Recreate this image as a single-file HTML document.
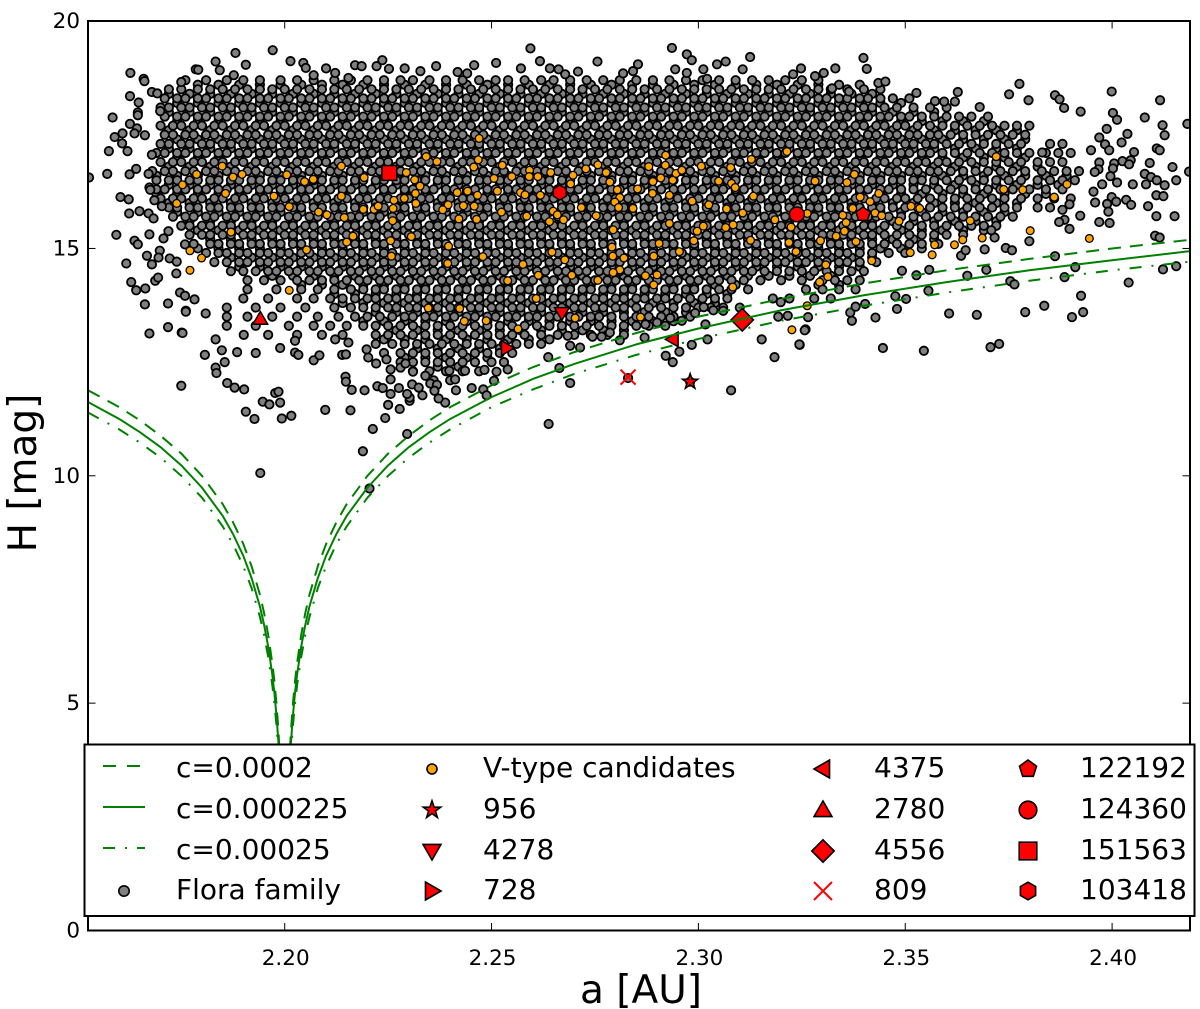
<!DOCTYPE html>
<html lang="en">
<head>
<meta charset="utf-8">
<title>Flora family H versus a</title>
<style>
html,body{margin:0;padding:0;background:#fff;}
svg{display:block;}
text{font-family:"DejaVu Sans","Liberation Sans",sans-serif;fill:#000;}
</style>
</head>
<body>
<svg id="chart" xmlns="http://www.w3.org/2000/svg" width="1200" height="1009" viewBox="0 0 1200 1009">
<defs><clipPath id="plot-clip"><rect x="88" y="21" width="1102" height="909.5"/></clipPath></defs>
<rect x="0" y="0" width="1200" height="1009" fill="#fff"/>
<g id="flora-layer" clip-path="url(#plot-clip)"></g>
<g id="vtype-layer" clip-path="url(#plot-clip)"></g>
<g id="named-layer" clip-path="url(#plot-clip)"></g>
<g id="curve-layer" clip-path="url(#plot-clip)"></g>
<rect x="88" y="21" width="1102" height="909.5" fill="none" stroke="#000" stroke-width="2"/>
<g id="tick-layer"></g>
<text x="641" y="1003" font-size="39" text-anchor="middle">a [AU]</text>
<text transform="translate(36 473) rotate(-90)" font-size="39" text-anchor="middle">H [mag]</text>
<g id="legend-layer">
<rect x="84.5" y="744.5" width="1110" height="171.5" fill="#fff" stroke="#000" stroke-width="2"/>
</g>
</svg>
<script>
const xTickValues=[2.20,2.25,2.30,2.35,2.40];
const xTickLabels=["2.20","2.25","2.30","2.35","2.40"];
const yTickValues=[0,5,10,15,20];
const yTickLabels=["0","5","10","15","20"];

const curveLeftA=[2.1525,2.16,2.165,2.17,2.175,2.18,2.185,2.1875,2.19,2.192,2.194,2.195,2.196,2.197,2.1975,2.198,2.1985,2.199];
const curveLeftHc0002=[11.88,11.51,11.22,10.88,10.49,10.00,9.38,8.98,8.50,8.01,7.39,6.99,6.51,5.88,5.49,5.00,4.38,3.50];
const curveLeftHc000225=[11.62,11.25,10.96,10.63,10.23,9.74,9.12,8.72,8.24,7.75,7.13,6.73,6.25,5.63,5.23,4.74,4.12,3.24];
const curveLeftHc00025=[11.39,11.02,10.73,10.40,10.00,9.52,8.89,8.50,8.01,7.53,6.90,6.51,6.02,5.40,5.00,4.52,3.89,3.01];
const curveRightA=[2.201,2.2015,2.202,2.2025,2.203,2.204,2.205,2.206,2.208,2.21,2.2125,2.215,2.22,2.225,2.23,2.235,2.24,2.25,2.26,2.27,2.285,2.30,2.32,2.34,2.36,2.38,2.40,2.4188];
const curveRightHc0002=[3.50,4.38,5.00,5.49,5.88,6.51,6.99,7.39,8.01,8.50,8.98,9.38,10.00,10.49,10.88,11.22,11.51,11.99,12.39,12.72,13.14,13.50,13.89,14.23,14.52,14.77,15.00,15.19];
const curveRightHc000225=[3.24,4.12,4.74,5.23,5.63,6.25,6.73,7.13,7.75,8.24,8.72,9.12,9.74,10.23,10.63,10.96,11.25,11.73,12.13,12.46,12.89,13.24,13.64,13.97,14.26,14.52,14.74,14.94];
const curveRightHc00025=[3.01,3.89,4.52,5.00,5.40,6.02,6.51,6.90,7.53,8.01,8.50,8.89,9.52,10.00,10.40,10.73,11.02,11.51,11.90,12.24,12.66,13.01,13.41,13.74,14.03,14.29,14.52,14.71];

/* Dense Flora family: intermediate bands, semi-major axes in milli-AU above 2 AU */
const floraMidBandH=[18.6,18.4,18.2,18.0,17.8,17.6,17.4,17.2,17.0,16.8,16.6,16.4,16.2,16.0,15.8,15.6,15.4,15.2,15.0,14.8,14.6,14.4,14.2,14.0,13.8,13.6,13.4,13.2,13.0,12.8,12.6,12.4];
const floraMidBandA=[
[179,184,189,194,199,204,209,214,219,224,229,234,239,244,249,254,259,264,269,274,279,284,289,294,299,304,309,314,319,324,329,334,339],
[172,177,182,187,192,197,202,207,212,217,222,227,232,237,242,247,252,257,262,267,272,277,282,287,292,297,302,307,312,317,322,327,332,337,342],
[174,179,184,189,194,199,204,209,214,219,224,229,234,239,244,249,254,259,264,269,274,279,284,289,294,299,304,309,314,319,324,329,334,339,344,349],
[172,177,182,187,192,197,202,207,212,217,222,227,232,237,242,247,252,257,262,267,272,277,282,287,292,297,302,307,312,317,322,327,332,337,342,347,352,357],
[174,179,184,189,194,199,204,209,214,219,224,229,234,239,244,249,254,259,264,269,274,279,284,289,294,299,304,309,314,319,324,329,334,339,344,349,354,359,364,369],
[172,177,182,187,192,197,202,207,212,217,222,227,232,237,242,247,252,257,262,267,272,277,282,287,292,297,302,307,312,317,322,327,332,337,342,347,352,357,362,367,372,377],
[174,179,184,189,194,199,204,209,214,219,224,229,234,239,244,249,254,259,264,269,274,279,284,289,294,299,304,309,314,319,324,329,334,339,344,349,354,359,364,369,374,379],
[172,177,182,187,192,197,202,207,212,217,222,227,232,237,242,247,252,257,262,267,272,277,282,287,292,297,302,307,312,317,322,327,332,337,342,347,352,357,362,367,372,377],
[174,179,184,189,194,199,204,209,214,219,224,229,234,239,244,249,254,259,264,269,274,279,284,289,294,299,304,309,314,319,324,329,334,339,344,349,354,359,364,369,374,379],
[172,177,182,187,192,197,202,207,212,217,222,227,232,237,242,247,252,257,262,267,272,277,282,287,292,297,302,307,312,317,322,327,332,337,342,347,352,357,362,367,372,377,382],
[169,174,179,184,189,194,199,204,209,214,219,224,229,234,239,244,249,254,259,264,269,274,279,284,289,294,299,304,309,314,319,324,329,334,339,344,349,354,359,364,369,374,379,384,389],
[172,177,182,187,192,197,202,207,212,217,222,227,232,237,242,247,252,257,262,267,272,277,282,287,292,297,302,307,312,317,322,327,332,337,342,347,352,357,362,367,372,377,382,387],
[169,174,179,184,189,194,199,204,209,214,219,224,229,234,239,244,249,254,259,264,269,274,279,284,289,294,299,304,309,314,319,324,329,334,339,344,349,354,359,364,369,374,379,384],
[172,177,182,187,192,197,202,207,212,217,222,227,232,237,242,247,252,257,262,267,272,277,282,287,292,297,302,307,312,317,322,327,332,337,342,347,352,357,362,367,372,377],
[174,179,184,189,194,199,204,209,214,219,224,229,234,239,244,249,254,259,264,269,274,279,284,289,294,299,304,309,314,319,324,329,334,339,344,349,354,359,364,369,374],
[177,182,187,192,197,202,207,212,217,222,227,232,237,242,247,252,257,262,267,272,277,282,287,292,297,302,307,312,317,322,327,332,337,342,347,352,357,362,367,372],
[179,184,189,194,199,204,209,214,219,224,229,234,239,244,249,254,259,264,269,274,279,284,289,294,299,304,309,314,319,324,329,334,339,344,349,354,359,364,369],
[182,187,192,197,202,207,212,217,222,227,232,237,242,247,252,257,262,267,272,277,282,287,292,297,302,307,312,317,322,327,332,337,342,347,352,357],
[179,184,189,194,199,204,209,214,219,224,229,234,239,244,249,254,259,264,269,274,279,284,289,294,299,304,309,314,319,324,329,334,339,344,349,354],
[187,192,197,202,207,212,217,222,227,232,237,242,247,252,257,262,267,272,277,282,287,292,297,302,307,312,317,322,327,332,337,342],
[189,194,199,204,209,214,219,224,229,234,239,244,249,254,259,264,269,274,279,284,289,294,299,304,309,314,319,324,329,334,339],
[197,202,207,212,217,222,227,232,237,242,247,252,257,262,267,272,277,282,287,292,297,302,307,312,317,322,327,332],
[204,209,214,219,224,229,234,239,244,249,254,259,264,269,274,279,284,289,294,299,304,309,329,334],
[212,217,222,227,232,237,242,247,252,257,262,267,272,277,282,287,292,297,302,307],
[214,219,224,229,234,239,244,249,254,259,264,269,274,279,284,289,294,299,304],
[222,227,232,237,242,247,252,257,262,267,272,277,282,287,292,297],
[219,224,229,234,239,244,249,254,259,264,269,274,279,284,289,294],
[227,232,237,242,247,252,257,262,267,272,277,282],
[224,229,234,239,244,249,254,259,264],
[232,237,242,247,252],
[229,234,239,244,249],
[237,242]
];
/* Dense Flora family bands: one H value per band, semi-major axes in milli-AU above 2 AU */
const floraBandH=[18.7,18.5,18.3,18.1,17.9,17.7,17.5,17.3,17.1,16.9,16.7,16.5,16.3,16.1,15.9,15.7,15.5,15.3,15.1,14.9,14.7,14.5,14.3,14.1,13.9,13.7,13.5,13.3,13.1,12.9,12.7,12.5,12.3,12.1];
const floraBandA=[
[176,181,186,190,194,199,203,207,212,216,220,224,228,231,235,239,243,247,251,254,258,262,265,269,273,277,281,285,289,293,297,301,305,309,313,317,321,325,329],
[172,175,179,182,185,188,191,194,197,200,203,206,209,212,215,218,221,224,227,230,233,236,239,242,245,248,251,254,257,260,263,266,269,272,275,278,281,284,287,290,293,296,299,302,305,308,311,314,317,320,323,326,329,332,336,340,344],
[171,174,176,179,181,184,186,189,191,194,196,199,201,204,206,209,211,214,216,219,221,224,226,229,231,234,236,239,241,244,246,249,251,254,256,259,261,264,266,269,271,274,276,279,281,284,286,289,291,294,296,299,301,304,306,309,311,314,316,319,321,324,326,329,331,334,336,339,341,344,347,351],
[170,172,175,177,180,182,185,187,190,192,195,197,200,202,205,207,210,212,215,217,220,222,225,227,230,232,235,237,240,242,245,247,250,252,255,257,260,262,265,267,270,272,275,277,280,282,285,287,290,292,295,297,300,302,305,307,310,312,315,317,320,322,325,327,330,332,335,337,340,342,345,348,352,356,360],
[171,174,176,179,181,184,186,189,191,194,196,199,201,204,206,209,211,214,216,219,221,224,226,229,231,234,236,239,241,244,246,249,251,254,256,259,261,264,266,269,271,274,276,279,281,284,286,289,291,294,296,299,301,304,306,309,311,314,316,319,321,324,326,329,331,334,336,339,341,344,346,349,351,354,357,360,363,366,370],
[170,173,175,178,180,183,185,188,190,193,195,198,200,203,205,208,210,213,215,218,220,223,225,228,230,233,235,238,240,243,245,248,250,253,255,258,260,263,265,268,270,273,275,278,280,283,285,288,290,293,295,298,300,303,305,308,310,313,315,318,320,323,325,328,330,333,335,338,340,343,345,348,350,353,356,359,362,365,368,371,374,377,380],
[171,173,176,178,181,183,186,188,191,193,196,198,201,203,206,208,211,213,216,218,221,223,226,228,231,233,236,238,241,243,246,248,251,253,256,258,261,263,266,268,271,273,276,278,281,283,286,288,291,293,296,298,301,303,306,308,311,313,316,318,321,323,326,328,331,333,336,338,341,343,346,348,351,353,356,358,361,364,367,370,373,376,379],
[170,172,175,177,180,182,185,187,190,192,195,197,200,202,205,207,210,212,215,217,220,222,225,227,230,232,235,237,240,242,245,247,250,252,255,257,260,262,265,267,270,272,275,277,280,282,285,287,290,292,295,297,300,302,305,307,310,312,315,317,320,322,325,327,330,332,335,337,340,342,345,347,350,352,355,357,360,363,366,369,372,375,378,385,388],
[169,171,174,176,179,181,184,186,189,191,194,196,199,201,204,206,209,211,214,216,219,221,224,226,229,231,234,236,239,241,244,246,249,251,254,256,259,261,264,266,269,271,274,276,279,281,284,286,289,291,294,296,299,301,304,306,309,311,314,316,319,321,324,326,329,331,334,336,339,341,344,346,349,351,354,356,359,362,365,368,371,374,377,380,384,387,390],
[170,173,175,178,180,183,185,188,190,193,195,198,200,203,205,208,210,213,215,218,220,223,225,228,230,233,235,238,240,243,245,248,250,253,255,258,260,263,265,268,270,273,275,278,280,283,285,288,290,293,295,298,300,303,305,308,310,313,315,318,320,323,325,328,330,333,335,338,340,343,345,348,350,353,355,358,360,363,366,369,372,375,378,382,385,388],
[168,171,173,176,178,181,183,186,188,191,193,196,198,201,203,206,208,211,213,216,218,221,223,226,228,231,233,236,238,241,243,246,248,251,253,256,258,261,263,266,268,271,273,276,278,281,283,286,288,291,293,296,298,301,303,306,308,311,313,316,318,321,323,326,328,331,333,336,338,341,343,346,348,351,353,356,358,361,364,367,370,373,376,379,383,386,389,392],
[169,172,174,177,179,182,184,187,189,192,194,197,199,202,204,207,209,212,214,217,219,222,224,227,229,232,234,237,239,242,244,247,249,252,254,257,259,262,264,267,269,272,274,277,279,282,284,287,289,292,294,297,299,302,304,307,309,312,314,317,319,322,324,327,329,332,334,337,339,342,344,347,349,352,354,357,360,363,366,369,372,375,378,382,385,388,391],
[169,171,174,176,179,181,184,186,189,191,194,196,199,201,204,206,209,211,214,216,219,221,224,226,229,231,234,236,239,241,244,246,249,251,254,256,259,261,264,266,269,271,274,276,279,281,284,286,289,291,294,296,299,301,304,306,309,311,314,316,319,321,324,326,329,331,334,336,339,341,344,346,349,352,355,358,361,364,367,370,373,376,380,384,388],
[170,173,175,178,180,183,185,188,190,193,195,198,200,203,205,208,210,213,215,218,220,223,225,228,230,233,235,238,240,243,245,248,250,253,255,258,260,263,265,268,270,273,275,278,280,283,285,288,290,293,295,298,300,303,305,308,310,313,315,318,320,323,325,328,330,333,335,338,340,343,345,348,350,353,356,359,362,365,368,371,374,378,382,386,390],
[172,174,177,179,182,184,187,189,192,194,197,199,202,204,207,209,212,214,217,219,222,224,227,229,232,234,237,239,242,244,247,249,252,254,257,259,262,264,267,269,272,274,277,279,282,284,287,289,292,294,297,299,302,304,307,309,312,314,317,319,322,324,327,329,332,334,337,339,342,344,347,350,353,356,359,362,365,368,371,374,377,382,385],
[173,176,178,181,183,186,188,191,193,196,198,201,203,206,208,211,213,216,218,221,223,226,228,231,233,236,238,241,243,246,248,251,253,256,258,261,263,266,268,271,273,276,278,281,283,286,288,291,293,296,298,301,303,306,308,311,313,316,318,321,323,326,328,331,333,336,338,341,343,346,349,352,355,358,361,364,367,370,373,376],
[175,177,180,182,185,187,190,192,195,197,200,202,205,207,210,212,215,217,220,222,225,227,230,232,235,237,240,242,245,247,250,252,255,257,260,262,265,267,270,272,275,277,280,282,285,287,290,292,295,297,300,302,305,307,310,312,315,317,320,322,325,327,330,332,335,337,340,342,345,348,351,354,357,360,363,366,369,372],
[177,180,182,185,187,190,192,195,197,200,202,205,207,210,212,215,217,220,222,225,227,230,232,235,237,240,242,245,247,250,252,255,257,260,262,265,267,270,272,275,277,280,282,285,287,290,292,295,297,300,302,305,307,310,312,315,317,320,322,325,327,330,332,335,337,340,342,345,348,351,354,357,360,364],
[178,182,184,187,189,192,194,197,199,202,204,207,209,212,214,217,219,222,224,227,229,232,234,237,239,242,244,247,249,252,254,257,259,262,264,267,269,272,274,277,279,282,284,287,289,292,294,297,299,302,304,307,309,312,314,317,319,322,324,327,329,332,334,337,339,342,345,348,351,354,358],
[181,184,186,189,191,194,196,199,201,204,206,209,211,214,216,219,221,224,226,229,231,234,236,239,241,244,246,249,251,254,256,259,261,264,266,269,271,274,276,279,281,284,286,289,291,294,296,299,301,304,306,309,311,314,316,319,321,324,326,329,331,334,336,339,342,346,350],
[183,186,189,191,194,196,199,201,204,206,209,211,214,216,219,221,224,226,229,231,234,236,239,241,244,246,249,251,254,256,259,261,264,266,269,271,274,276,279,281,284,286,289,291,294,296,299,301,304,306,309,311,314,316,319,321,324,326,329,331,334,336,339,343],
[187,190,193,196,198,201,203,206,208,211,213,216,218,221,223,226,228,231,233,236,238,241,243,246,248,251,253,256,258,261,263,266,268,271,273,276,278,281,283,286,288,291,293,296,298,301,303,306,308,311,313,316,319,322,325,328,331,334,337,340],
[191,195,199,203,206,209,212,215,218,220,223,225,228,230,233,235,238,240,243,245,248,250,253,255,258,260,263,265,268,270,273,275,278,280,283,285,288,290,293,295,298,300,303,305,308,311,315,320,325,330,333,336,339],
[191,198,204,208,212,216,219,222,224,227,229,232,234,237,239,242,244,247,249,252,254,257,259,262,264,267,269,272,274,277,279,282,284,287,289,292,294,297,299,302,305,308,312,326,330,334,338],
[190,196,203,207,211,214,217,220,222,225,227,230,232,235,237,240,242,245,247,250,252,255,257,260,262,265,267,270,272,275,277,280,282,285,287,290,292,295,298,301,304,307,318,322,328,332],
[186,193,199,205,212,216,219,222,225,227,230,232,235,237,240,242,245,247,250,252,255,257,260,262,265,267,270,272,275,277,280,282,285,288,291,294,297,300,303,306,310],
[186,191,197,203,208,213,217,220,223,226,229,231,234,236,239,241,244,246,249,251,254,256,259,261,264,266,269,271,274,276,279,282,285,288,291,294,298],
[186,193,201,207,211,215,219,222,225,228,231,234,237,240,243,246,249,252,255,258,261,264,267,270,273,276,279,282,285,288,292],
[196,203,209,214,222,225,228,231,234,237,240,243,246,249,252,255,258,262,266,270,274,278,282],
[222,226,229,232,235,238,241,244,247,250,253,256,259,262],
[224,228,231,234,237,240,243,246,249,252,255],
[228,231,234,237,240,243,246,250,253],
[231,235,239,243,247],
[236,240]
];
/* Individually read outlying Flora members: [milli-AU above 2 AU, H] */
const floraSparse=[
[377.6,18.62],[399.9,18.45],[411.6,18.26],[375.1,18.39],[379.8,18.26],[386.2,18.37],[387.3,18.28],[388.4,18.09],[392.4,18.01],[400.2,17.98],[401.2,17.83],[407.9,17.88],[412.2,17.71],[412.7,17.49],[418.2,17.74],[398.7,17.63],[403.7,17.52],[402.3,17.33],[396.9,17.44],[398.3,17.29],[399.3,17.16],[394.9,17.16],[383.1,17.11],[405.3,17.12],[410.8,17.2],[411.5,17.16],[409.1,16.88],[414.6,16.79],[418.6,16.69],[402.5,16.92],[404.5,16.94],[404.1,16.85],[400.5,16.87],[400.2,16.76],[399.6,16.59],[396.9,16.89],[396.7,16.74],[395.8,16.68],[407.9,16.64],[409.4,16.57],[410.8,16.5],[412.7,16.39],[415.5,16.5],[405,16.41],[408.2,16.41],[401.2,16.45],[397.6,16.41],[395.5,16.25],[395.9,16.01],[399.9,16.13],[398.8,15.98],[401,16.03],[403.4,16.07],[404.6,15.96],[410.7,16.17],[412.4,16.15],[408.7,15.93],[399.1,15.81],[410.7,15.71],[415.1,15.71],[396.9,15.58],[399.4,15.56],[392.3,15.72],[389.7,15.43],[388.5,15.63],[387.2,15.58],[389.7,15.97],[388,15.85],[380,15.16],[410.4,15.28],[411.5,15.24],[386.2,14.83],[391.1,14.59],[412.3,14.54],[415.5,14.61],[404,14.25],[388.5,14.37],[392.5,13.96],[383.6,13.74],[393,13.6],[390.3,13.49],[379,13.6],[367.3,13.54],[360.6,13.57],[370.6,12.83],[372.7,12.9],[354.5,12.75],[344.6,12.81],[342.8,13.48],[348,13.67],[350.2,13.89],[347.6,13.95],[355.6,14.07],[365,14.4],[369.6,14.53],[375.4,14.28],[376.4,14.21],[369.2,14.98],[363.5,14.84],[364.6,14.96],[374.3,15.01],[375.8,14.96],[371.6,15.24],[370.8,15.4],[352.7,14.41],[349.2,14.51],[355.8,14.53],[337.1,13.41],[336.7,13.59],[338,13.72],[340.3,13.78],[325.9,13.22],[324.5,12.88],[326.5,13.49],
[197.1,19.36],[188.1,19.3],[201.4,19.12],[190.6,19.04],[183.3,19.11],[162.7,18.86],[165.9,18.73],[166.1,18.68],[175,18.66],[178.5,18.94],[179.1,18.93],[184.3,18.92],[187.7,18.81],[162.6,18.35],[164.7,18.21],[167.9,18.44],[169.2,18.41],[164.5,17.99],[164.5,17.93],[158.4,17.88],[169.9,18.02],[162.6,17.74],[164.3,17.64],[158.9,17.45],[160.8,17.53],[163.7,17.53],[166.2,17.49],[160.7,17.31],[157.5,17.14],[162,17.14],[167.9,17.06],[164.1,16.75],[157.1,16.64],[162.5,16.63],[167.1,16.64],[152.7,16.56],[167.3,16.34],[167.5,16.29],[160.3,16.13],[162.3,16.08],[168.5,16.06],[170.3,15.93],[162.4,15.77],[164.9,15.82],[167.1,15.77],[168.3,15.66],[159.3,15.3],[163.7,15.17],[164.5,15.09],[167.3,15.31],[170.7,15.22],[171.9,15.38],[175.9,15.09],[161.7,14.67],[166.7,14.84],[169.8,14.95],[169.5,14.8],[167.9,14.65],[172.2,14.78],[173.9,14.71],[173.8,14.45],[162.9,14.26],[164.1,14.08],[166.3,14.12],[168.7,14.29],[169.4,14.36],[166.2,13.77],[171.8,13.79],[174.7,14.03],[175.9,13.96],[178.2,13.88],[176.1,13.63],[180.9,13.57],[171.8,13.27],[167.3,13.13],[175.1,13.15],[183.3,13],[190.1,13.1],
[176.1,13.61],[175.3,13.14],[180.7,12.66],[184.8,12.76],[188.5,12.72],[193,12.7],[185.5,12.5],[183.3,12.38],[183.5,12.26],[186.1,12.04],[187.9,11.94],[190.2,11.9],[175,11.98],[197.7,11.82],[198.5,11.85],[198.9,11.61],[194.7,11.63],[196.3,11.57],[190.6,11.41],[192.7,11.25],[199.3,11.26],[201.6,11.32],[209.8,11.45],[215.9,11.44],[224.3,11.27],[221.3,11.03],[229.6,10.92],[218.9,10.54],[194.1,10.06],[220.5,9.72],[263.8,11.14],[269,12.04],[214.7,12.18],[214.8,12.07],[216.2,11.89],[219.3,11.88],[222.4,11.97],[223.7,11.93],[225.6,11.8],[227.6,11.93],[225,11.56],[227.8,11.47],[230.2,11.65],[230.2,11.72],[229.6,11.8],[233.3,11.77],[238.8,11.61],[237.2,11.7],[241.4,11.88],[245.2,11.93],[248,11.9],[248.8,11.77],[250.6,12.09],[225.6,12.12],[230.8,12.01],[232.4,11.94],[235.2,12.03],[236.8,12],[236.2,11.87],[219.8,12.78],[220.2,12.6],[222.1,12.47],[224.6,12.56],[225.6,12.34],[228,12.38],[231,12.29],[234,12.2],[229.2,12.47],[248.3,12.33],[251.2,12.29],[253.9,12.34],[243.6,12.31],[241.2,12.12],[239.8,12.31],[198.9,12.81],[202.5,12.97],[202.5,12.71],[203.3,12.66],[207,12.54],[208.4,12.65],[213.9,12.66],[214.8,12.67],[212.2,13],[215.4,12.93],[266.4,12.37],[263.7,12.61],
[281,12.98],[287,13.04],[292.1,12.64],[293.8,12.5],[295.4,12.73],[298.4,12.88],[302.2,13],[301.7,13.33],[307.9,11.88],[315.3,13],[318.4,12.61],[324.4,12.89],[325.7,13.2],[319.3,13.5],[321.6,13.52],[319.9,13.82],[271.4,12.82],[276.6,13.06],[278.6,13.15],[274.4,13.06],[269,12.86],[268.4,13.08],[290,13.37],[287.2,13.33],[293.2,13.47],[296,13.41],[299.2,13.58],[306,13.63],[303.6,13.64],[301.3,13.71],[283,12.15],[298,12.07],
[204.5,19.08],[205.1,18.97],[210,18.96],[212.2,18.86],[215.4,18.75],[217,19.03],[218.6,19.01],[222.2,19.01],[223.6,19.14],[225.2,18.95],[229,18.96],[232.8,18.9],[236.6,19.01],[241.8,18.88],[244.1,18.85],[245.8,19.03],[207,18.81],[259.4,19.4],[251.1,19.08],[261.7,19.12],[257.1,18.96],[264.1,18.96],[266.2,18.94],[267.8,18.83],[270.9,18.89],[275.6,19.11],[285.4,19.05],[281.8,18.85],[284.2,18.9],[293.6,19.41],[297.2,19.27],[298.4,19.14],[294.4,18.94],[297.2,18.86],[301.2,18.94],[302.1,18.73],[304.5,19.05],[306.6,19.11],[310.7,18.94],[312.5,19.21],[322.9,18.83],[324.8,18.96],[328.2,18.79],[330.3,18.86],[333.1,18.96],[339.9,19.19],[340.7,18.95],[332.3,18.52],[343.5,18.64],[345.2,18.67],[336.4,18.45],[352.7,18.42],[362.7,18.44],[359.4,18.23],[357.2,18.24],[362,18.23],[368,18.11]
];
/* V-type candidates: [milli-AU above 2 AU, H] */
const vTypeCandidates=[
[184.9,16.81],[178.7,16.63],[187.5,16.57],[189.7,16.63],[175.3,16.4],[185.7,16.21],[173.9,15.99],[200.5,16.62],[204.8,16.47],[206.9,16.52],[197.4,16.15],[201.1,15.92],[208.2,15.8],[210.2,15.74],[213.7,16.81],[213.7,16.15],[219.2,16.56],[214.4,15.68],[219,15.86],[221.6,15.86],[222.6,15.93],[226.4,16.06],[226.2,15.88],[226.1,15.61],[229.4,16.67],[231.4,16.51],[232.7,16.37],[231.6,16.21],[228.9,16.1],[231.7,15.99],[234.2,17.02],[236.8,16.91],[245.7,16.79],[247,17.42],[246.8,16.95],[241.7,16.23],[244.2,16.26],[246.6,16.17],[239.5,15.96],[238.2,15.85],[243.2,15.94],[245.8,15.93],[242.1,15.65],[246.4,15.64],[187,15.36],[177.1,14.95],[179.9,14.79],[177.1,14.52],[216.5,15.27],[215,15.14],[205.3,14.97],[225.6,15.17],[225.8,14.83],[230.6,15.26],[239.6,15.05],[239.4,14.67],[201.1,14.08],[234.7,13.69],[242.3,13.68],[243.4,13.4],
[252.6,16.83],[250.6,16.54],[254.9,16.58],[251.4,16.26],[259.2,16.72],[259.1,16.58],[261.2,16.58],[264.3,16.67],[257,16.23],[258.1,16.18],[261.8,16.17],[252.4,15.8],[258.5,15.71],[264.9,15.82],[265.9,15.74],[264,15.59],[267.4,15.63],[269.7,16.61],[269.1,16.42],[272.8,16.75],[275.7,16.84],[277.7,16.67],[278.6,16.46],[280.4,16.29],[281,16.12],[279.8,16.02],[280.7,15.9],[271.7,15.9],[275.3,15.72],[284.2,15.88],[285.3,16.31],[288,16.8],[289,16.47],[288.9,16.21],[290.9,16.55],[292.1,17.05],[292,16.83],[293,16.17],[293.8,16.5],[294.6,16.65],[296,16.72],[300.7,16.81],[298.5,16.04],[302.5,15.96],[304.9,16.48],[307.8,16.78],[308,16.43],[308.9,16.34],[312.8,16.96],[313.3,16.15],[306.8,15.87],[310.7,15.78],[306.6,15.46],[308.4,15.52],[301.2,15.49],[299.7,15.38],[298.9,15.17],[293,15.55],[279.4,15.41],[312.6,15.18],[290.5,15.11],[279.1,15.03],[279.3,14.83],[282,14.79],[289.2,14.83],[295.4,14.93],[264.6,14.92],[267.7,14.75],[257.6,14.65],[247.9,14.82],[261.3,14.41],[269.4,14.41],[253.9,14.29],[275.7,14.3],[281,14.53],[279.4,14.47],[287.2,14.4],[290,14.42],[289.2,14.2],[260.8,13.9],[248.7,13.41],[256.4,13.23],[270.2,13.47],[286,13.49],[308.3,14.15],[322.6,13.21],[326.3,13.74],[321.4,17.13],[328.2,16.48],[337.7,16.63],[335.9,16.45],[339.1,16.13],[341.5,16.03],[343.6,16.21],[318.5,15.63],[326.3,15.77],[322.4,15.47],[321.9,15.13],[323.6,14.93],[329.5,15.17],[334.9,15.73],[335.7,15.57],[335.3,15.38],[333.3,15.27],[338.1,15.15],[337.3,15.88],[342.7,15.78],[341.9,14.73],[330.8,14.64],[331.3,14.38],[329.3,14.26],[344.3,15.72],[351.4,15.93],[353.5,15.88],[348.5,15.6],[351.2,14.91],[357.1,15.08],[356.5,14.86],[361.9,15.08],[363.9,15.19],[365.7,15.61],[368.6,15.23],[372,17.02],[373.8,16.3],[378.4,16.29],[386,16.13],[389.1,16.41],[380.2,15.39],[394.5,15.22]
];
const namedIds=["956","4278","728","4375","2780","4556","809","122192","124360","151563","103418"];
const namedA=[2.2980,2.2670,2.2537,2.2938,2.1941,2.3106,2.2830,2.3398,2.3238,2.2253,2.2665];
const namedH=[12.07,13.58,12.81,13.00,13.45,13.43,12.17,15.75,15.75,16.66,16.23];
const namedShapes=["star","triDown","triRight","triLeft","triUp","diamond","cross","pentagon","circle","square","hexagon"];

const SVG_NS="http://www.w3.org/2000/svg";
function xScale(a){return 284.7+(a-2.2)*4137;}
function yScale(h){return 930.5-h*45.47;}
function make(tag,attrs,parent){
  const el=document.createElementNS(SVG_NS,tag);
  for(const k in attrs){el.setAttribute(k,attrs[k]);}
  parent.appendChild(el);
  return el;
}
function drawDot(layer,cx,cy,r,fill,sw,name){
  const el=make("circle",{cx:cx,cy:cy,r:r,fill:fill,stroke:"#000","stroke-width":sw},layer);
  
  
  return el;
}
function polyPoints(cx,cy,radii,startDeg){
  const n=radii.length;
  const out=[];
  for(let i=0;i<n;i++){
    const t=(startDeg+i*360/n)*Math.PI/180;
    out.push((cx+radii[i]*Math.cos(t)).toFixed(2)+","+(cy+radii[i]*Math.sin(t)).toFixed(2));
  }
  return out.join(" ");
}
function drawShape(layer,shape,cx,cy,s,sw,name){
  let el;
  const base={fill:"#f00",stroke:"#000","stroke-width":sw,"stroke-linejoin":"miter"};
  if(shape==="circle"){
    el=make("circle",Object.assign({cx:cx,cy:cy,r:s},base),layer);
  }else if(shape==="square"){
    el=make("rect",Object.assign({x:cx-s,y:cy-s,width:2*s,height:2*s},base),layer);
  }else if(shape==="cross"){
    el=make("path",{d:"M"+(cx-s)+" "+(cy-s)+"L"+(cx+s)+" "+(cy+s)+"M"+(cx-s)+" "+(cy+s)+"L"+(cx+s)+" "+(cy-s),fill:"none",stroke:"#f00","stroke-width":2},layer);
  }else{
    let pts;
    if(shape==="star"){pts=polyPoints(cx,cy,[s*1.15,s*.45,s*1.15,s*.45,s*1.15,s*.45,s*1.15,s*.45,s*1.15,s*.45],-90);}
    else if(shape==="triUp"){pts=polyPoints(cx,cy+s*.15,[s*1.15,s*1.15,s*1.15],-90);}
    else if(shape==="triDown"){pts=polyPoints(cx,cy-s*.15,[s*1.15,s*1.15,s*1.15],90);}
    else if(shape==="triLeft"){pts=polyPoints(cx+s*.15,cy,[s*1.15,s*1.15,s*1.15],180);}
    else if(shape==="triRight"){pts=polyPoints(cx-s*.15,cy,[s*1.15,s*1.15,s*1.15],0);}
    else if(shape==="diamond"){pts=polyPoints(cx,cy,[s*1.4,s*1.4,s*1.4,s*1.4],-90);}
    else if(shape==="pentagon"){pts=polyPoints(cx,cy,[s,s,s,s,s],-90);}
    else {pts=polyPoints(cx,cy,[s,s,s,s,s,s],-90);}
    el=make("polygon",Object.assign({points:pts},base),layer);
  }
  
  
  return el;
}
function drawCurve(layer,as,hs,dash,name){
  const pts=as.map(function(a,i){return xScale(a).toFixed(2)+","+yScale(hs[i]).toFixed(2);}).join(" ");
  const el=make("polyline",{points:pts,fill:"none",stroke:"#008000","stroke-width":2,"stroke-dasharray":dash||"none"},layer);
  
  
}
function addText(layer,x,y,str,size,anchor,name){
  const el=make("text",{x:x,y:y,"font-size":size,"text-anchor":anchor},layer);
  el.textContent=str;
  
  
}

const floraLayer=document.getElementById("flora-layer");
const vLayer=document.getElementById("vtype-layer");
const namedLayer=document.getElementById("named-layer");
const curveLayer=document.getElementById("curve-layer");
const tickLayer=document.getElementById("tick-layer");
const legendLayer=document.getElementById("legend-layer");

floraMidBandA.forEach(function(band,i){
  band.forEach(function(v){
    drawDot(floraLayer,xScale(2+v/1000),yScale(floraMidBandH[i]),4.2,"#808080",1.8,"flora-point");
  });
});
floraBandA.forEach(function(band,i){
  band.forEach(function(v){
    drawDot(floraLayer,xScale(2+v/1000),yScale(floraBandH[i]),4.2,"#808080",1.8,"flora-point");
  });
});
floraSparse.forEach(function(p){
  drawDot(floraLayer,xScale(2+p[0]/1000),yScale(p[1]),4.2,"#808080",1.8,"flora-point");
});
vTypeCandidates.forEach(function(p){
  drawDot(vLayer,xScale(2+p[0]/1000),yScale(p[1]),3.9,"#ffa500",1.3,"v-type-point");
});
namedIds.forEach(function(id,i){
  const s=namedShapes[i]==="cross"?7.5:(namedShapes[i]==="star"?7:(namedShapes[i]==="diamond"?8:7.4));
  drawShape(namedLayer,namedShapes[i],xScale(namedA[i]),yScale(namedH[i]),s,1.5,"asteroid-"+id);
});
drawCurve(curveLayer,curveLeftA,curveLeftHc0002,"13,9","curve-c0002-left");
drawCurve(curveLayer,curveRightA,curveRightHc0002,"13,9","curve-c0002-right");
drawCurve(curveLayer,curveLeftA,curveLeftHc000225,"","curve-c000225-left");
drawCurve(curveLayer,curveRightA,curveRightHc000225,"","curve-c000225-right");
drawCurve(curveLayer,curveLeftA,curveLeftHc00025,"12,10,2,10","curve-c00025-left");
drawCurve(curveLayer,curveRightA,curveRightHc00025,"12,10,2,10","curve-c00025-right");

xTickValues.forEach(function(v,i){
  const x=xScale(v);
  const b=make("line",{x1:x,x2:x,y1:930.5,y2:923,stroke:"#000","stroke-width":1},tickLayer);
  
  
  const t=make("line",{x1:x,x2:x,y1:21,y2:28.5,stroke:"#000","stroke-width":1},tickLayer);
  
  
  addText(tickLayer,x+1,965,xTickLabels[i],21.5,"middle","x-tick-label");
});
yTickValues.forEach(function(v,i){
  const y=yScale(v);
  const l=make("line",{x1:88,x2:95.5,y1:y,y2:y,stroke:"#000","stroke-width":1},tickLayer);
  
  
  const r=make("line",{x1:1190,x2:1182.5,y1:y,y2:y,stroke:"#000","stroke-width":1},tickLayer);
  
  
  addText(tickLayer,80,y+7,yTickLabels[i],21.5,"end","y-tick-label");
});

const legendRowY=[767,808,849,889];
const legendLineDash=["13,11","","12,10,2,10"];
const legendLineLabels=["c=0.0002","c=0.000225","c=0.00025"];
legendLineLabels.forEach(function(label,i){
  const ln=make("line",{x1:103,x2:145,y1:legendRowY[i]-1,y2:legendRowY[i]-1,stroke:"#008000","stroke-width":2,"stroke-dasharray":legendLineDash[i]||"none"},legendLayer);
  
  
  addText(legendLayer,176,legendRowY[i]+10,label,28,"start","legend-label");
});
drawDot(legendLayer,124,legendRowY[3]+2,5.2,"#808080",1.6,"legend-flora-swatch");
addText(legendLayer,176,legendRowY[3]+10,"Flora family",28,"start","legend-label");
drawDot(legendLayer,432,legendRowY[0]+2,5,"#ffa500",1.6,"legend-vtype-swatch");
addText(legendLayer,483,legendRowY[0]+10,"V-type candidates",28,"start","legend-label");
const legendCol2Ids=["956","4278","728"];
const legendCol2Shapes=["star","triDown","triRight"];
legendCol2Ids.forEach(function(id,i){
  drawShape(legendLayer,legendCol2Shapes[i],432,legendRowY[i+1]+2,legendCol2Shapes[i]==="star"?8:9,1.6,"legend-swatch-"+id);
  addText(legendLayer,483,legendRowY[i+1]+10,id,28,"start","legend-label");
});
const legendCol3Ids=["4375","2780","4556","809"];
const legendCol3Shapes=["triLeft","triUp","diamond","cross"];
legendCol3Ids.forEach(function(id,i){
  const s=legendCol3Shapes[i]==="diamond"?8:9;
  drawShape(legendLayer,legendCol3Shapes[i],823,legendRowY[i]+2,s,1.6,"legend-swatch-"+id);
  addText(legendLayer,874,legendRowY[i]+10,id,28,"start","legend-label");
});
const legendCol4Ids=["122192","124360","151563","103418"];
const legendCol4Shapes=["pentagon","circle","square","hexagon"];
legendCol4Ids.forEach(function(id,i){
  drawShape(legendLayer,legendCol4Shapes[i],1028,legendRowY[i]+2,legendCol4Shapes[i]==="pentagon"?9:8.8,1.6,"legend-swatch-"+id);
  addText(legendLayer,1080,legendRowY[i]+10,id,28,"start","legend-label");
});
</script>
</body>
</html>
